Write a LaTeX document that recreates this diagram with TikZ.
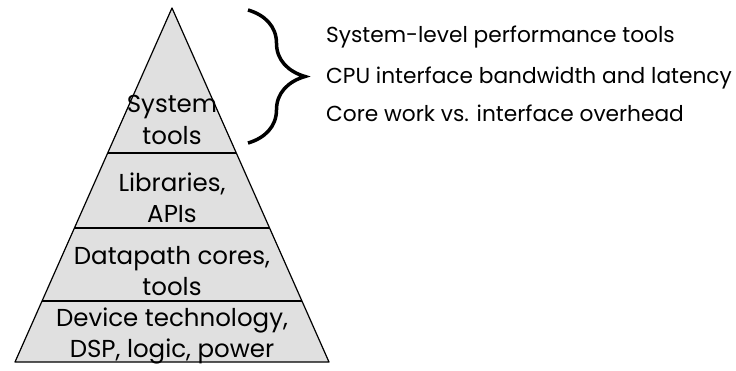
\documentclass[tikz,border=0pt]{standalone}
\usepackage{fontspec}
\setmainfont{Poppins}
\usetikzlibrary{calc}
\usetikzlibrary{decorations.pathreplacing}
\definecolor{layer-gray}{RGB}{224, 224, 224}

\begin{document}
\begin{tikzpicture}[x=1pt, y=-1pt,
        layer/.style={align=center, inner sep=0pt, font=\fontsize{24.5}{31.5}\selectfont},
        note/.style={anchor=base west, inner sep=0pt, font=\fontsize{21.7}{24}\selectfont}]
    \useasboundingbox (0, 0) rectangle (736, 370);
    \coordinate (apex) at (172, 8);
    \coordinate (bl) at (15, 362);
    \coordinate (br) at (329, 362);
    \filldraw[fill=layer-gray, draw=black, line width=1.2pt, line join=round] (apex) -- (br) -- (bl) -- cycle;
    \foreach \t in {0.4096, 0.6215, 0.8277}
        \draw[line width=1.2pt] ($(apex)!\t!(bl)$) -- ($(apex)!\t!(br)$);
    \node[layer] (system) at (172, 120) {System\\tools};
    \node[layer] (libs) at (172, 198) {Libraries,\\APIs};
    \node[layer] (cores) at (172, 271) {Datapath cores,\\tools};
    \node[layer] (device) at (172, 336) {Device technology,\\DSP, logic, power};
    % brace over the top layer
    \draw[line width=3.5pt, decorate, decoration={brace, amplitude=57pt}] (248, 10) -- (248, 143);
    \node[note] (perf) at (326, 42.7) {System-level performance tools};
    \node[note] (cpu) at (326, 83) {CPU interface bandwidth and latency};
    \node[note] (core) at (326, 121.7) {Core work vs. interface overhead};
\end{tikzpicture}
\end{document}
